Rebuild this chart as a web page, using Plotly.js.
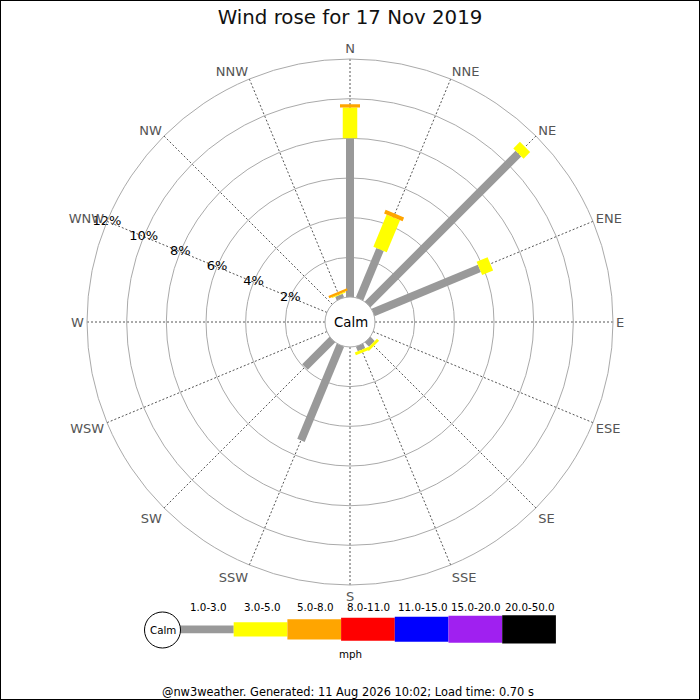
<!DOCTYPE html>
<html>
<head>
<meta charset="utf-8">
<script src="https://cdn.plot.ly/plotly-3.0.1.min.js"></script>
<style>
html,body{margin:0;padding:0;background:#fff;}
#wrap{position:relative;width:700px;height:700px;}
#chart{width:700px;height:700px;}
#frame{position:absolute;left:0;top:0;width:700px;height:700px;box-sizing:border-box;border:1px solid #000;pointer-events:none;}
</style>
</head>
<body>
<div id="wrap"><div id="chart"></div><div id="frame"></div></div>
<script>
// ---- data ----
const directions = ['N','NNE','NE','ENE','E','ESE','SE','SSE','S','SSW','SW','WSW','W','WNW','NW','NNW'];
const speedBands = ['1.0-3.0','3.0-5.0','5.0-8.0','8.0-11.0','11.0-15.0','15.0-20.0','20.0-50.0'];
const bandColors = ['#999999','#ffff00','#ffa500','#ff0000','#0000ff','#a020f0','#000000'];
// percent of time per direction, per speed band
const band1 = [8.0, 2.7, 10.75, 5.8, 0, 0, 0.3, 0.25, 0, 5.2, 1.95, 0, 0, 0, 0, 0.2];
const band2 = [1.55, 1.75, 0.47, 0.6, 0, 0, 0.15, 0.15, 0, 0, 0, 0, 0, 0, 0, 0.05];
const band3 = [0.17, 0.2, 0, 0, 0, 0, 0, 0, 0, 0, 0, 0, 0, 0, 0, 0.12];
const band4 = [0,0,0,0,0,0,0,0,0,0,0,0,0,0,0,0];
const band5 = [0,0,0,0,0,0,0,0,0,0,0,0,0,0,0,0];
const band6 = [0,0,0,0,0,0,0,0,0,0,0,0,0,0,0,0];
const band7 = [0,0,0,0,0,0,0,0,0,0,0,0,0,0,0,0];
const radialTicks = [2,4,6,8,10,12];
const radialTickLabels = ['2%','4%','6%','8%','10%','12%'];
const titleText = 'Wind rose for 17 Nov 2019';
const unitText = 'mph';
const footerText = '@nw3weather. Generated: 11 Aug 2026 10:02; Load time: 0.70 s';

// ---- styles ----
const bandWidths = [8, 14.5, 20, 23, 25, 27, 28.5];
const FONT = 'DejaVu Sans, Verdana, sans-serif';

const bands = [band1, band2, band3, band4, band5, band6, band7];
const base = directions.map(() => 0);
const traces = [];
bands.forEach((vals, bi) => {
  const r = [], th = [];
  vals.forEach((v, di) => {
    if (v > 0) {
      r.push(base[di], base[di] + v, null);
      th.push(directions[di], directions[di], null);
    }
    base[di] += v;
  });
  if (r.length) {
    traces.push({
      type: 'scatterpolar', mode: 'lines', r: r, theta: th,
      line: {color: bandColors[bi], width: bandWidths[bi]},
      connectgaps: false, hoverinfo: 'skip', showlegend: false, cliponaxis: false
    });
  }
});
traces.push({
  type: 'scatterpolar', mode: 'text',
  r: radialTicks, theta: radialTicks.map(() => 'WNW'),
  text: radialTickLabels, textposition: 'middle center',
  textfont: {family: FONT, size: 13, color: '#000'},
  showlegend: false, hoverinfo: 'skip', cliponaxis: false
});

// ---- legend (paper coords from pixels) ----
const W = 700, H = 700;
const px = x => x / W, py = y => 1 - y / H;
const shapes = [];
const annotations = [];
const legX0 = 180, legSeg = 53.7, legY = 629.3;
const legHeights = [7.7, 14.3, 20.3, 23, 25, 27, 28.3];
speedBands.forEach((lab, i) => {
  const x0 = legX0 + i * legSeg, x1 = x0 + legSeg;
  shapes.push({type: 'rect', xref: 'paper', yref: 'paper',
    x0: px(x0), x1: px(x1), y0: py(legY + legHeights[i] / 2), y1: py(legY - legHeights[i] / 2),
    fillcolor: bandColors[i], line: {width: 0}});
  annotations.push({xref: 'paper', yref: 'paper', x: px((x0 + x1) / 2 + 1), y: py(607), text: lab,
    showarrow: false, xanchor: 'center', yanchor: 'middle',
    font: {family: FONT, size: 10.3, color: '#000'}});
});
shapes.push({type: 'circle', xref: 'paper', yref: 'paper',
  x0: px(162.5 - 18), x1: px(162.5 + 18), y0: py(630 + 18), y1: py(630 - 18),
  fillcolor: '#fff', line: {color: '#000', width: 1}});
annotations.push({xref: 'paper', yref: 'paper', x: px(162.5), y: py(630), text: 'Calm', showarrow: false,
  xanchor: 'center', yanchor: 'middle', font: {family: FONT, size: 10.3, color: '#000'}});
annotations.push({xref: 'paper', yref: 'paper', x: px(350.5), y: py(654), text: unitText, showarrow: false,
  xanchor: 'center', yanchor: 'middle', font: {family: FONT, size: 10.3, color: '#000'}});
annotations.push({xref: 'paper', yref: 'paper', x: px(348), y: py(692), text: footerText, showarrow: false,
  xanchor: 'center', yanchor: 'middle', font: {family: FONT, size: 11.4, color: '#000'}});
annotations.push({xref: 'paper', yref: 'paper', x: px(351), y: py(322), text: 'Calm', showarrow: false,
  xanchor: 'center', yanchor: 'middle', font: {family: FONT, size: 13.3, color: '#000'}});

const cx = 350, cy = 322, R = 263;
const layout = {
  width: 700, height: 700,
  margin: {l: 0, r: 0, t: 0, b: 0},
  paper_bgcolor: '#fff',
  font: {family: FONT},
  title: {text: titleText, x: 0.5, xanchor: 'center', y: py(17), yanchor: 'middle', yref: 'container',
    font: {family: FONT, size: 19.8, color: '#111'}},
  showlegend: false,
  polar: {
    domain: {x: [px(cx - R), px(cx + R)], y: [py(cy + R), py(cy - R)]},
    hole: 25 / R,
    bgcolor: '#fff',
    radialaxis: {range: [0, 12], tickvals: radialTicks, showticklabels: false, ticks: '',
      showline: false, gridcolor: '#aaaaaa', gridwidth: 1, angle: 157.5},
    angularaxis: {type: 'category', categoryarray: directions, rotation: 90, direction: 'clockwise',
      ticks: '', showline: true, linecolor: '#aaaaaa', linewidth: 1,
      gridcolor: '#555555', gridwidth: 1, griddash: '2px,2px',
      tickfont: {family: FONT, size: 13, color: '#555555'}}
  },
  shapes: shapes,
  annotations: annotations
};
Plotly.newPlot('chart', traces, layout, {displayModeBar: false, staticPlot: true});
</script>
</body>
</html>
